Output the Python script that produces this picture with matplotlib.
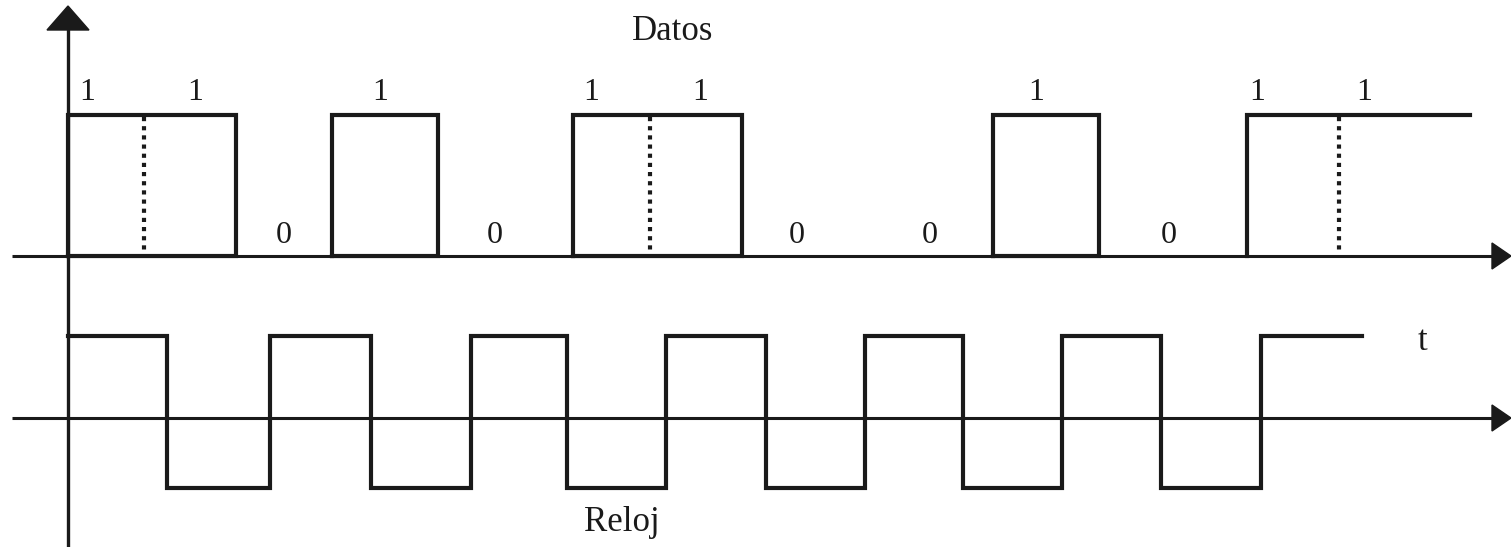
import numpy as np
import matplotlib
matplotlib.use('Agg')
import matplotlib.pyplot as plt
from matplotlib.patches import Polygon

plt.rcParams['font.family'] = ['Liberation Serif', 'DejaVu Serif']

# data signal: pulses as (rise, fall); last one stays high to the end
data_pulses = [(68, 236), (332, 438), (573, 742), (993, 1099)]
data_last_rise = 1247
data_end = 1470
# dotted separators between consecutive 1 bits
separators = [144, 650, 1339]
# bit labels
bits = ['1', '1', '0', '1', '0', '1', '1', '0', '0', '1', '0', '1', '1']
bit_x = [87, 195, 284, 380, 495, 591, 700, 797, 930, 1036, 1169, 1257, 1364]

# clock signal: edge times, starts high
clock_start = 68
clock_edges = [167, 270, 371, 471, 567, 666, 766, 865, 963, 1062, 1161, 1261]
clock_end = 1362

# layout (pixels)
W, H = 1511, 547
AX_X = 68
DATA_LOW, DATA_HIGH = 256, 115
CLK_AXIS, CLK_HIGH, CLK_LOW = 418, 336, 488

fig = plt.figure(figsize=(W / 100, H / 100), dpi=100)
ax = fig.add_axes([0, 0, 1, 1])
ax.set_xlim(0, W)
ax.set_ylim(H, 0)
ax.axis('off')

k = '#1a1a1a'
# axes
ax.plot([AX_X, AX_X], [H, 26], color=k, lw=2.4, solid_capstyle='butt')
ax.add_patch(Polygon([[AX_X - 21, 30], [AX_X + 21, 30], [AX_X, 6]], closed=True, color=k))
for yy in [DATA_LOW, CLK_AXIS]:
    ax.plot([12, 1496], [yy, yy], color=k, lw=2.2, solid_capstyle='butt')
    ax.add_patch(Polygon([[1492, yy - 13], [1492, yy + 13], [1511, yy]], closed=True, color=k))

# data pulses
for r, f in data_pulses:
    ax.plot([r, r, f, f, r], [DATA_LOW, DATA_HIGH, DATA_HIGH, DATA_LOW, DATA_LOW],
            color=k, lw=3.0, solid_joinstyle='miter')
ax.plot([data_last_rise, data_last_rise, data_end], [DATA_LOW, DATA_HIGH, DATA_HIGH],
        color=k, lw=3.0, solid_joinstyle='miter')
for sx in separators:
    ax.plot([sx, sx], [DATA_HIGH + 2, DATA_LOW - 3], color=k, lw=3.0,
            linestyle=(0, (1.0, 1.2)))

# clock
cx = [clock_start] + clock_edges + [clock_end]
levels = [1 - (i % 2) for i in range(len(clock_edges) + 1)]
levels.append(levels[-1])
cy = [CLK_HIGH if v else CLK_LOW for v in levels]
ax.plot(cx, cy, drawstyle='steps-post', color=k, lw=3.0, solid_joinstyle='miter')

# text
for b, x in zip(bits, bit_x):
    yb = 100 if b == '1' else 243
    ax.text(x, yb, b, ha='center', va='baseline', fontsize=23, color=k)
ax.text(673, 40, 'Datos', ha='center', va='baseline', fontsize=25, color=k)
ax.text(622, 531, 'Reloj', ha='center', va='baseline', fontsize=25, color=k)
ax.text(1423, 350, 't', ha='center', va='baseline', fontsize=25, color=k)

fig.savefig('out.png', dpi=100)
